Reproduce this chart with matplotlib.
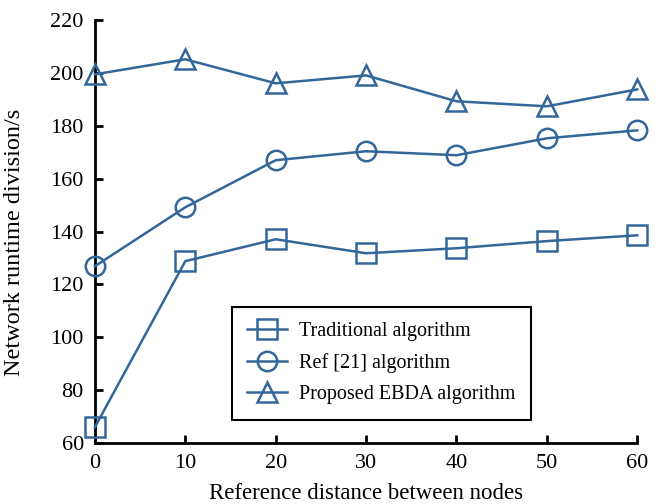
import matplotlib
matplotlib.use('Agg')
import matplotlib.pyplot as plt

plt.rcParams['font.family'] = ['Liberation Serif', 'DejaVu Serif']

distance = [0, 10, 20, 30, 40, 50, 60]
traditional = [66, 128.8, 137.1, 131.8, 133.7, 136.4, 138.6]
ref21 = [126.9, 149.2, 167.0, 170.4, 168.9, 175.3, 178.3]
proposed = [199.5, 205.2, 196.1, 199.1, 189.3, 187.4, 193.8]

color = '#336699'

fig = plt.figure(figsize=(6.59, 5.04), dpi=100)
ax = fig.add_axes([0.144, 0.121, 0.823, 0.839])

style = dict(color=color, lw=1.8, markersize=14, markerfacecolor='none',
             markeredgewidth=1.8, clip_on=False, zorder=3)
ax.plot(distance, traditional, marker='s', label='Traditional algorithm', **style)
ax.plot(distance, ref21, marker='o', label='Ref [21] algorithm', **style)
ax.plot(distance, proposed, marker='^', label='Proposed EBDA algorithm', **style)

ax.set_xlim(0, 60)
ax.set_ylim(60, 220)
ax.set_xticks(distance)
ax.set_yticks(range(60, 221, 20))

for side in ['top', 'right']:
    ax.spines[side].set_visible(False)
for side in ['left', 'bottom']:
    ax.spines[side].set_linewidth(2)

ax.tick_params(direction='in', length=6, width=2, labelsize=16, pad=8)
ax.set_xlabel('Reference distance between nodes', fontsize=16.5, labelpad=7)
ax.set_ylabel('Network runtime division/s', fontsize=17.5)
ax.yaxis.set_label_coords(-0.129, 0.475)

leg = ax.legend(loc='lower left', bbox_to_anchor=(0.245, 0.046), fontsize=14.5,
                fancybox=False, edgecolor='black', framealpha=1,
                handlelength=2.0, handletextpad=0.6, borderpad=0.75,
                labelspacing=0.6, borderaxespad=0.2)
leg.get_frame().set_linewidth(1.5)

fig.savefig('out.png', dpi=100)
